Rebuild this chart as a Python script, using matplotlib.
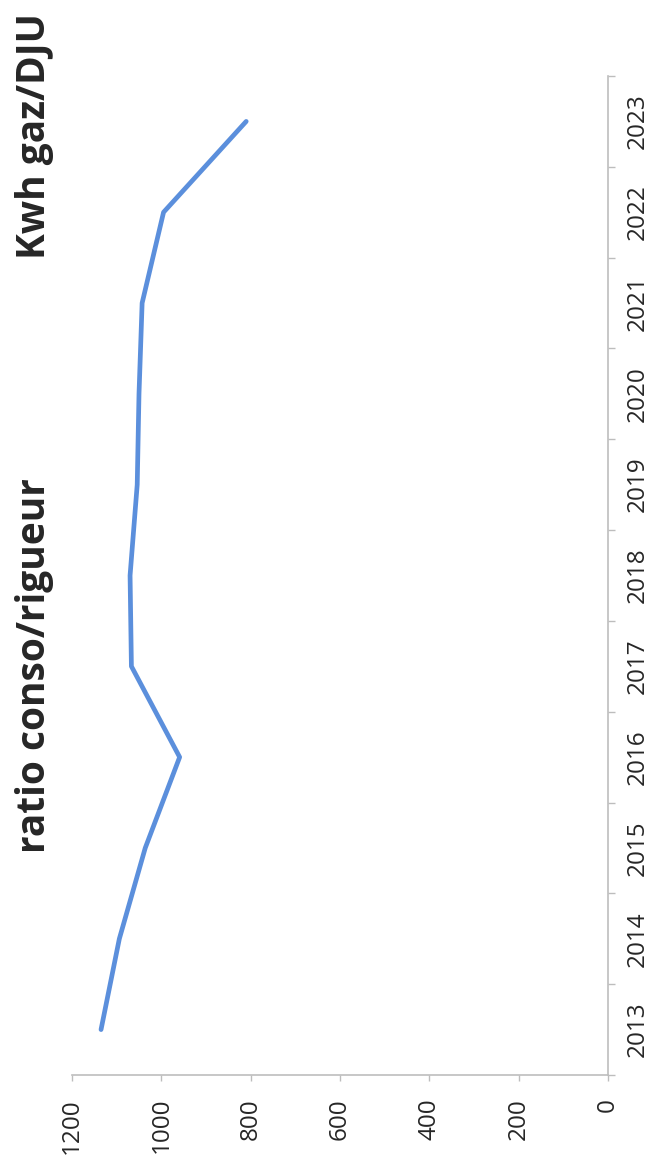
import matplotlib.pyplot as plt
import matplotlib as mpl
from matplotlib.ticker import FixedLocator

# Ratio gas consumption / heating degree days, per year
years = [2013, 2014, 2015, 2016, 2017, 2018, 2019, 2020, 2021, 2022, 2023]
ratio = [1135, 1094, 1036, 959, 1067, 1070, 1054, 1050, 1043, 995, 810]

value_ticks = [0, 200, 400, 600, 800, 1000, 1200]
title = "ratio conso/rigueur"
unit_label = "Kwh gaz/DJU"

mpl.rcParams.update({
    "font.family": ["Open Sans", "DejaVu Sans"],
})

TEXT = "#262626"
AXIS = "#bdbdbd"
LINE = "#5b8fdc"

# the page is turned a quarter: values run right to left, years run upward
fig = plt.figure(figsize=(6.49, 11.63), dpi=100)
ax = fig.add_axes([72 / 649, 1 - 1075 / 1163, (608 - 72) / 649, (1075 - 76) / 1163])

ax.plot(ratio, years, color=LINE, linewidth=3.4, solid_capstyle="round",
        solid_joinstyle="round")

ax.set_xlim(1200, 0)
ax.set_ylim(years[0] - 0.5, years[-1] + 0.5)

for side in ("left", "top"):
    ax.spines[side].set_visible(False)
for side in ("bottom", "right"):
    ax.spines[side].set_color(AXIS)
    ax.spines[side].set_linewidth(1.2)

# value axis (bottom)
ax.set_xticks(value_ticks)
ax.set_xticklabels([str(v) for v in value_ticks], rotation=90)
ax.tick_params(axis="x", direction="out", length=4.5, width=1, color=AXIS,
               pad=12, labelsize=17.5, labelcolor=TEXT)

# category axis (right): labels at centres, ticks between years
ax.yaxis.tick_right()
ax.set_yticks(years)
ax.set_yticklabels([str(y) for y in years], rotation=90, va="center")
ax.yaxis.set_minor_locator(FixedLocator([y - 0.5 for y in years] + [years[-1] + 0.5]))
ax.tick_params(axis="y", which="major", length=0, pad=13, labelsize=17.5,
               labelcolor=TEXT)
ax.tick_params(axis="y", which="minor", direction="out", length=5, width=1,
               color=AXIS)

fig.text(35 / 649, 1 - 666 / 1163, title, rotation=90, ha="center", va="center",
         fontsize=28, fontweight="bold", color=TEXT)
fig.text(35 / 649, 1 - 136 / 1163, unit_label, rotation=90, ha="center",
         va="center", fontsize=28, fontweight="bold", color=TEXT)

fig.savefig("out.png", dpi=100)
